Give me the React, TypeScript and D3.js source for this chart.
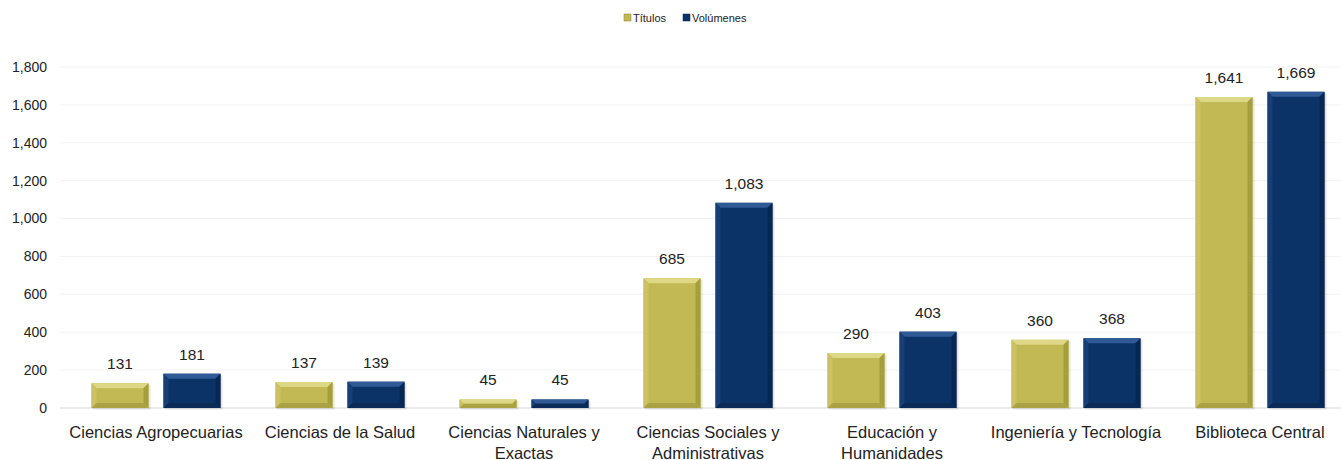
import React from "react";
import * as d3 from "d3";

const categories: string[][] = [
  ["Ciencias Agropecuarias"],
  ["Ciencias de la Salud"],
  ["Ciencias Naturales y", "Exactas"],
  ["Ciencias Sociales y", "Administrativas"],
  ["Educación y", "Humanidades"],
  ["Ingeniería y Tecnología"],
  ["Biblioteca Central"],
];
const titulos = [131, 137, 45, 685, 290, 360, 1641];
const volumenes = [181, 139, 45, 1083, 403, 368, 1669];
const seriesNames = ["Títulos", "Volúmenes"];
const yTicks = [0, 200, 400, 600, 800, 1000, 1200, 1400, 1600, 1800];

const W = 1341;
const H = 460;
const FONT = "'Liberation Sans', Arial, sans-serif";

const palettes = [
  { base: "#C2B955", top: "#DED785", left: "#CBC261", right: "#A69D3E", bottom: "#ABA244" },
  { base: "#0B3368", top: "#2F5A95", left: "#163F76", right: "#082853", bottom: "#0A2A58" },
];

function BevelBar({ x, y, w, h, p }: { x: number; y: number; w: number; h: number; p: typeof palettes[0] }) {
  const b = Math.min(5, h / 2, w / 2);
  const x1 = x + w;
  const y1 = y + h;
  return (
    <g>
      <rect x={x + 1} y={y + 1.5} width={w + 1} height={h} fill="#000" opacity={0.1} />
      <rect x={x} y={y} width={w} height={h} fill={p.base} />
      <polygon points={`${x},${y} ${x1},${y} ${x1 - b},${y + b} ${x + b},${y + b}`} fill={p.top} />
      <polygon points={`${x},${y} ${x + b},${y + b} ${x + b},${y1 - b} ${x},${y1}`} fill={p.left} />
      <polygon points={`${x1},${y} ${x1},${y1} ${x1 - b},${y1 - b} ${x1 - b},${y + b}`} fill={p.right} />
      <polygon points={`${x},${y1} ${x1},${y1} ${x1 - b},${y1 - b} ${x + b},${y1 - b}`} fill={p.bottom} />
    </g>
  );
}

export default function App() {
  const x = d3
    .scaleBand<number>()
    .domain(d3.range(categories.length))
    .range([64, 1352])
    .paddingInner(0)
    .paddingOuter(0);
  const band = x.bandwidth();
  const barW = 57;
  const gap = 15;
  const y = d3.scaleLinear().domain([0, 1800]).range([408, 67]);
  const fmt = d3.format(",");
  const series = [titulos, volumenes];

  return (
    <svg width={W} height={H} style={{ position: "absolute", left: 0, top: 0, background: "#fff" }} fontFamily={FONT}>
      {/* legend */}
      <g fontSize={11} fill="#222">
        <rect x={624} y={14} width={7} height={7} fill={palettes[0].base} stroke="#8a8330" strokeWidth={0.5} />
        <text x={633} y={21.5}>{seriesNames[0]}</text>
        <rect x={683} y={14} width={7} height={7} fill={palettes[1].base} stroke="#05214A" strokeWidth={0.5} />
        <text x={692} y={21.5}>{seriesNames[1]}</text>
      </g>
      {/* gridlines */}
      {yTicks.map((t) => (
        <g key={t}>
          <line x1={60} x2={W} y1={y(t)} y2={y(t)} stroke={t === 0 ? "#d9d9d9" : "#f2f2f2"} strokeWidth={1} />
          <text x={47} y={y(t)} dy="0.35em" textAnchor="end" fontSize={14} fill="#222">
            {fmt(t)}
          </text>
        </g>
      ))}
      {/* bars */}
      {categories.map((cat, i) => {
        const cx = (x(i) as number) + band / 2;
        const start = cx - (barW * 2 + gap) / 2;
        return (
          <g key={i}>
            {series.map((s, j) => {
              const bx = start + j * (barW + gap);
              const by = y(s[i]);
              const bh = y(0) - by;
              return (
                <g key={j}>
                  <BevelBar x={bx} y={by} w={barW} h={bh} p={palettes[j]} />
                  <text x={bx + barW / 2} y={by - 14} textAnchor="middle" fontSize={15.5} fill="#222">
                    {fmt(s[i])}
                  </text>
                </g>
              );
            })}
            <text x={cx} y={438} textAnchor="middle" fontSize={16.5} fill="#222">
              {cat.map((line, k) => (
                <tspan key={k} x={cx} dy={k === 0 ? 0 : 20.5}>
                  {line}
                </tspan>
              ))}
            </text>
          </g>
        );
      })}
    </svg>
  );
}
